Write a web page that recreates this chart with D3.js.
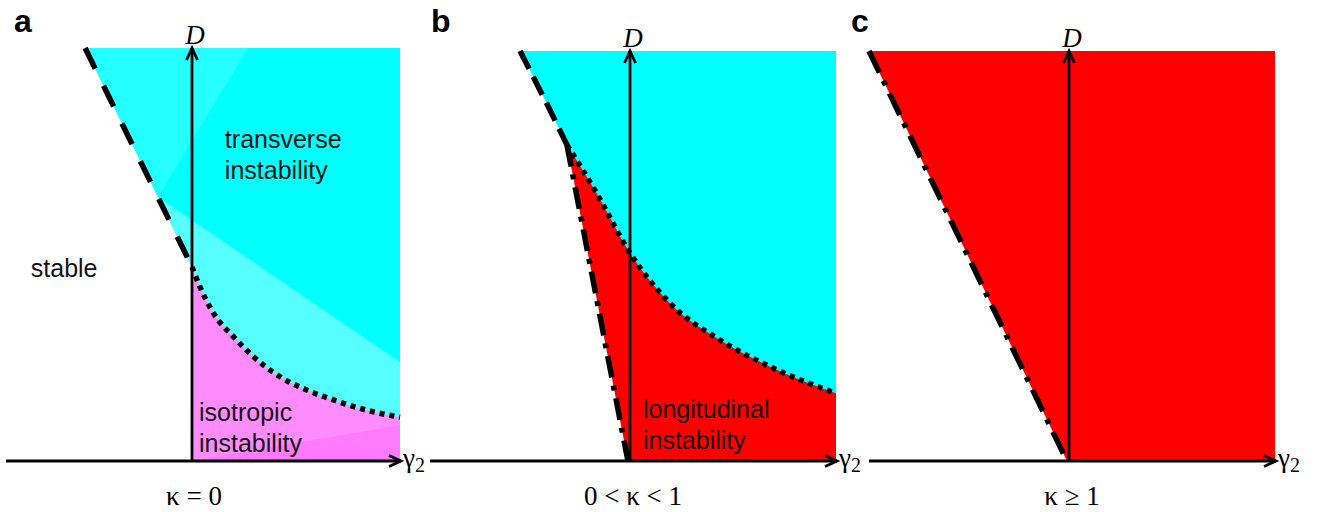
<!DOCTYPE html>
<html>
<head>
<meta charset="utf-8">
<script src="https://cdn.jsdelivr.net/npm/d3@7"></script>
<style>
  html, body { margin: 0; padding: 0; background: #fff; }
  svg { display: block; }
</style>
</head>
<body>
<svg id="chart" width="1330" height="512"></svg>
<script>
// ---------------- DATA (γ2, D) in panel units ----------------
const panelLetters = ["a", "b", "c"];
const kappaLabels = ["κ = 0", "0 < κ < 1", "κ ≥ 1"];
const axisLabelX = "γ";
const axisLabelXSub = "2";
const axisLabelY = "D";

// panel a : κ = 0
const aStableBoundary = [[-0.514, 1.0], [0.0, 0.470]];
const aTransIsoBoundary = [[0.0, 0.470], [0.038, 0.422], [0.103, 0.358], [0.199, 0.301], [0.295, 0.253],
  [0.423, 0.204], [0.551, 0.172], [0.679, 0.148], [0.84, 0.123], [1.0, 0.106]];
const aHatchShade = [[-0.514, 1.0], [0.269, 1.0], [-0.163, 0.639]];
const aBandShade = [[-0.163, 0.639], [1.0, 0.240], [1.0, 0.0], [0.0, 0.0], [0.0, 0.470]];
const aIsoShade = [[0.0, 0.0], [1.0, 0.087], [1.0, 0.0]];

// panel b : 0 < κ < 1
const bStableBoundary = [[-0.534, 1.0], [-0.404, 0.872], [-0.306, 0.771]];
const bLongBoundary = [[-0.306, 0.771], [-0.01, 0.0]];
const bTransLongBoundary = [[-0.306, 0.771], [-0.162, 0.653], [0.0, 0.507], [0.194, 0.385],
  [0.437, 0.295], [0.680, 0.230], [1.0, 0.165]];

// panel c : κ ≥ 1
const cLongBoundary = [[-0.971, 1.0], [-0.01, 0.0]];

// region labels
const regionLabels = [
  {panel: 0, lines: ["transverse", "instability"], at: [0.158, 0.757]},
  {panel: 0, lines: ["stable"], at: [-0.775, 0.446]},
  {panel: 0, lines: ["isotropic", "instability"], at: [0.034, 0.097]},
  {panel: 1, lines: ["longitudinal", "instability"], at: [0.063, 0.105]}
];

// ---------------- LAYOUT ----------------
const layout = [
  {ox: 192, unit: 208, xmin: -0.894, top: 48, bottom: 461, letterX: 14, kx: 194},
  {ox: 630, unit: 206, xmin: -0.971, top: 51, bottom: 461, letterX: 431, kx: 633},
  {ox: 1069, unit: 206, xmin: -0.971, top: 51, bottom: 461, letterX: 851, kx: 1072}
];

const colors = {
  cyan: "#00ffff", cyanLight: "#55ffff", cyanHatch: "#24ffff",
  magenta: "#ff8cff", magentaDark: "#ff7aff", red: "#ff0000", ink: "#000"
};
const sans = "'Liberation Sans', Arial, Helvetica, sans-serif";
const serif = "'Liberation Serif', 'Times New Roman', Times, serif";

const svg = d3.select("#chart");

const scales = layout.map(L => ({
  x: d3.scaleLinear().domain([0, 1]).range([L.ox, L.ox + L.unit]),
  y: d3.scaleLinear().domain([0, 1]).range([L.bottom, L.top])
}));

function poly(g, s, pts, fill) {
  g.append("path")
    .attr("d", d3.line().x(d => s.x(d[0])).y(d => s.y(d[1]))(pts) + "Z")
    .attr("fill", fill).attr("stroke", "none");
}
function areaUnder(g, s, pts, fill) {
  g.append("path")
    .attr("d", d3.area().curve(d3.curveMonotoneX)
      .x(d => s.x(d[0])).y0(s.y(0)).y1(d => s.y(d[1]))(pts))
    .attr("fill", fill).attr("stroke", "none");
}
function boundary(g, s, pts, dash, curve) {
  g.append("path")
    .attr("d", d3.line().curve(curve || d3.curveLinear).x(d => s.x(d[0])).y(d => s.y(d[1]))(pts))
    .attr("fill", "none").attr("stroke", colors.ink)
    .attr("stroke-width", 5.5).attr("stroke-dasharray", dash);
}

// ---------------- FILLS ----------------
// panel a
{
  const s = scales[0], g = svg.append("g");
  poly(g, s, [aStableBoundary[0], [1, 1], [1, 0], [0, 0], aStableBoundary[1]], colors.cyan);
  poly(g, s, aBandShade, colors.cyanLight);
  poly(g, s, aHatchShade, colors.cyanHatch);
  areaUnder(g, s, aTransIsoBoundary, colors.magenta);
  poly(g, s, aIsoShade, colors.magentaDark);
}
// panel b
{
  const s = scales[1], g = svg.append("g");
  poly(g, s, [...bStableBoundary.slice(0, 1), [1, 1], [1, 0], bLongBoundary[1], ...bStableBoundary.slice().reverse()], colors.cyan);
  areaUnder(g, s, bTransLongBoundary, colors.red);
  const [p0, p1] = bLongBoundary;
  poly(g, s, [p0, p1, [p0[0] - 0.1, 0], [p0[0] - 0.1, p0[1]]], "#fff");
}
// panel c
{
  const s = scales[2], g = svg.append("g");
  poly(g, s, [cLongBoundary[0], [1, 1], [1, 0], cLongBoundary[1]], colors.red);
}

// ---------------- AXES ----------------
layout.forEach((L, i) => {
  const s = scales[i], g = svg.append("g");
  const x0 = s.x(L.xmin), x1 = s.x(1) + 1, y0 = s.y(0), yT = s.y(1);
  const sw = 2.8;
  // γ2 axis
  g.append("line").attr("x1", x0).attr("y1", y0).attr("x2", x1).attr("y2", y0)
    .attr("stroke", colors.ink).attr("stroke-width", sw);
  g.append("path").attr("d", `M${x1 - 12},${y0 - 5.5}L${x1},${y0}L${x1 - 12},${y0 + 5.5}`)
    .attr("fill", "none").attr("stroke", colors.ink).attr("stroke-width", sw);
  // D axis
  const xo = s.x(0);
  g.append("line").attr("x1", xo).attr("y1", y0).attr("x2", xo).attr("y2", yT)
    .attr("stroke", colors.ink).attr("stroke-width", sw);
  g.append("path").attr("d", `M${xo - 5.5},${yT + 12}L${xo},${yT}L${xo + 5.5},${yT + 12}`)
    .attr("fill", "none").attr("stroke", colors.ink).attr("stroke-width", sw);
  // axis labels
  const t = g.append("text").attr("x", x1 + 2).attr("y", y0 + 6)
    .attr("font-family", serif).attr("font-size", 27).attr("fill", colors.ink);
  t.append("tspan").text(axisLabelX);
  t.append("tspan").attr("font-size", 20).attr("dy", 5).text(axisLabelXSub);
  g.append("text").attr("x", xo + 3).attr("y", yT - 4).attr("text-anchor", "middle")
    .attr("font-family", serif).attr("font-style", "italic").attr("font-size", 27)
    .attr("fill", colors.ink).text(axisLabelY);
  // kappa label
  g.append("text").attr("x", L.kx).attr("y", 505).attr("text-anchor", "middle")
    .attr("font-family", serif).attr("font-size", 27).attr("fill", colors.ink).text(kappaLabels[i]);
  // panel letter
  g.append("text").attr("x", L.letterX).attr("y", 32)
    .attr("font-family", sans).attr("font-weight", "bold").attr("font-size", 32)
    .attr("fill", colors.ink).text(panelLetters[i]);
});

// ---------------- BOUNDARY LINES ----------------
boundary(svg, scales[0], aStableBoundary, "23,19");
boundary(svg, scales[0], aTransIsoBoundary, "5,5", d3.curveMonotoneX);
boundary(svg, scales[1], bStableBoundary, "20,9");
boundary(svg, scales[1], bLongBoundary, "22,8,5,8");
boundary(svg, scales[1], bTransLongBoundary, "5,5", d3.curveMonotoneX);
boundary(svg, scales[2], cLongBoundary, "24,9,5,9");

// ---------------- REGION LABELS ----------------
regionLabels.forEach(r => {
  const s = scales[r.panel];
  const t = svg.append("text").attr("font-family", sans).attr("font-size", 25).attr("fill", "#111");
  r.lines.forEach((ln, k) => {
    t.append("tspan").attr("x", s.x(r.at[0])).attr("y", s.y(r.at[1]) + k * 31).text(ln);
  });
});
</script>
</body>
</html>
